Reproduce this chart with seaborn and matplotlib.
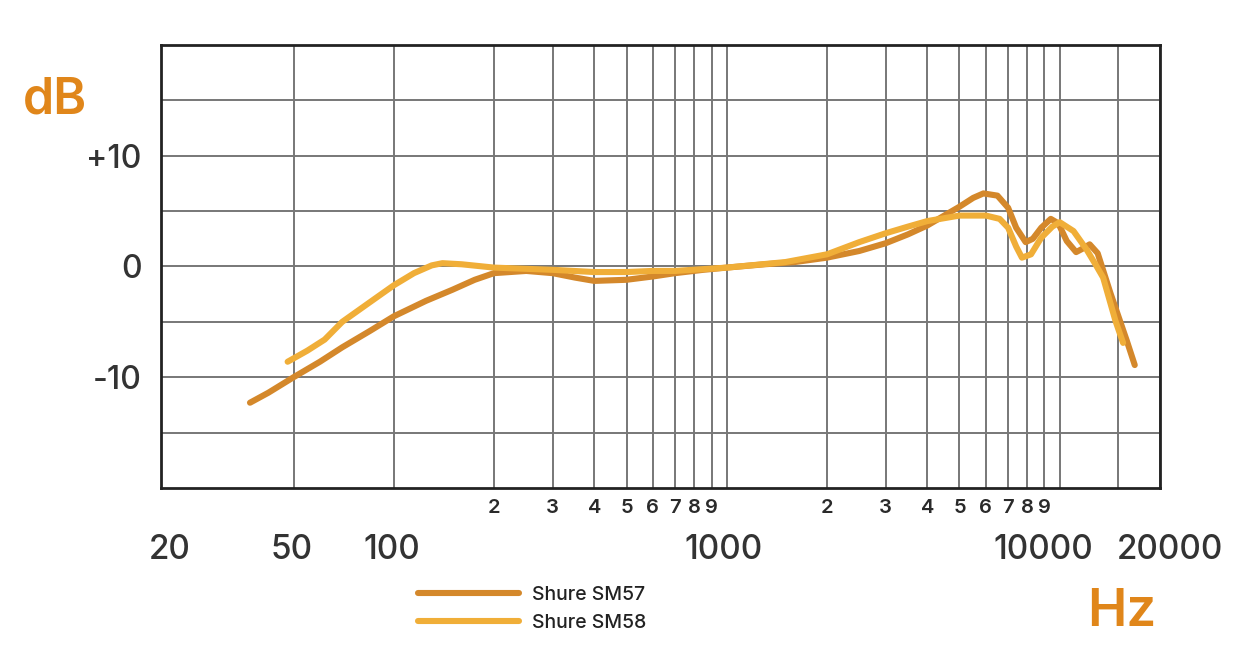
import numpy as np
import pandas as pd
import matplotlib.pyplot as plt
import matplotlib.transforms as mtransforms
import seaborn as sns
from matplotlib.ticker import FixedLocator, FixedFormatter

sns.set_theme(style="white")
plt.rcParams['font.family'] = ['Inter', 'DejaVu Sans']

# SM57 response
sm57_freq = [37, 42, 50, 60, 70, 85, 100, 125, 150, 175, 200, 250, 300, 350, 400,
             500, 600, 700, 850, 1000, 1300, 1600, 2000, 2500, 3000, 3500, 4000,
             4500, 5000, 5500, 5900, 6500, 7000, 7400, 7900, 8300, 8800, 9400,
             9900, 10500, 11200, 11700, 12300, 13000, 14200, 15900, 16800]
sm57_db = [-12.3, -11.4, -10.0, -8.6, -7.3, -5.8, -4.5, -3.1, -2.1, -1.2, -0.6, -0.4,
           -0.6, -1.0, -1.3, -1.2, -0.9, -0.6, -0.3, -0.1, 0.2, 0.4, 0.8, 1.4, 2.1,
           2.9, 3.7, 4.6, 5.4, 6.2, 6.6, 6.4, 5.3, 3.5, 2.2, 2.5, 3.5, 4.3, 3.9, 2.3,
           1.3, 1.6, 2.0, 1.2, -2.4, -6.7, -8.9]

# SM58 response
sm58_freq = [48, 55, 62, 70, 85, 100, 115, 130, 140, 160, 200, 300, 400, 500, 600,
             700, 1000, 1500, 2000, 2500, 3000, 3500, 4000, 5000, 6000, 6600, 7000,
             7400, 7700, 8200, 8800, 9500, 10000, 11000, 12000, 12800, 13500, 14700,
             15500]
sm58_db = [-8.6, -7.6, -6.6, -5.0, -3.2, -1.7, -0.6, 0.1, 0.3, 0.2, -0.1, -0.3, -0.5,
           -0.5, -0.4, -0.4, -0.1, 0.4, 1.1, 2.2, 3.0, 3.6, 4.1, 4.6, 4.6, 4.3, 3.5,
           1.8, 0.8, 1.1, 2.6, 3.6, 4.0, 3.2, 1.6, 0.2, -1.0, -4.9, -6.9]

series_names = ["Shure SM57", "Shure SM58"]
series_colors = {"Shure SM57": "#D4882B", "Shure SM58": "#F0AE38"}

major_x = [20, 50, 100, 1000, 10000, 20000]
major_x_labels = ["20", "50", "100", "1000", "10000", "20000"]
minor_x = [200, 300, 400, 500, 600, 700, 800, 900,
           2000, 3000, 4000, 5000, 6000, 7000, 8000, 9000, 15000]
minor_x_labels = ["2", "3", "4", "5", "6", "7", "8", "9",
                  "2", "3", "4", "5", "6", "7", "8", "9", ""]
major_y = [-10, 0, 10]
major_y_labels = ["-10", "0", "+10"]
minor_y = [-15, -5, 5, 15]

df = pd.concat([
    pd.DataFrame({"Hz": sm57_freq, "dB": sm57_db, "mic": series_names[0]}),
    pd.DataFrame({"Hz": sm58_freq, "dB": sm58_db, "mic": series_names[1]}),
])

fig = plt.figure(figsize=(12.34, 6.66), dpi=100)
ax = fig.add_axes([0.1305, 0.2673, 0.8095, 0.6651])

sns.lineplot(data=df, x="Hz", y="dB", hue="mic", palette=series_colors,
             sort=False, linewidth=4.4, ax=ax, legend=False,
             solid_capstyle="round", solid_joinstyle="round")

ax.set_xscale("log")
ax.set_xlim(20, 20000)
ax.set_ylim(-20, 20)

ax.xaxis.set_major_locator(FixedLocator(major_x))
ax.xaxis.set_major_formatter(FixedFormatter(major_x_labels))
ax.xaxis.set_minor_locator(FixedLocator(minor_x))
ax.xaxis.set_minor_formatter(FixedFormatter(minor_x_labels))
ax.yaxis.set_major_locator(FixedLocator(major_y))
ax.yaxis.set_major_formatter(FixedFormatter(major_y_labels))
ax.yaxis.set_minor_locator(FixedLocator(minor_y))

ax.tick_params(axis="x", which="major", length=0, pad=33, labelsize=24, labelcolor="#333333")
ax.tick_params(axis="x", which="minor", length=0, pad=8, labelsize=14.5, labelcolor="#2a2a2a")
ax.tick_params(axis="y", which="both", length=0, pad=14, labelsize=23, labelcolor="#333333")
for lab in ax.get_xticklabels() + ax.get_yticklabels():
    lab.set_fontweight("medium")
for lab in ax.get_xticklabels(minor=True):
    lab.set_fontweight("semibold")

# nudge the big frequency labels sideways like the reference
label_shift_px = [9, -2, -2, -3, -16, 10]
for tick, dx in zip(ax.xaxis.get_major_ticks(), label_shift_px):
    off = mtransforms.ScaledTranslation(dx / 100, 0, fig.dpi_scale_trans)
    tick.label1.set_transform(tick.label1.get_transform() + off)

ax.grid(True, which="both", color="#777777", linewidth=1.4)
ax.set_axisbelow(True)
for s in ax.spines.values():
    s.set_visible(True)
    s.set_color("#222222")
    s.set_linewidth(2.0)

ax.set_xlabel("")
ax.set_ylabel("")

fig.text(55 / 1234, 1 - 100 / 666, "dB", color="#E0861A", fontsize=36,
         fontweight="semibold", ha="center", va="center")
fig.text(1122 / 1234, 1 - 612 / 666, "Hz", color="#E0861A", fontsize=38,
         fontweight="semibold", ha="center", va="center")

handles = [plt.Line2D([], [], color=series_colors[n], linewidth=4.4,
                      solid_capstyle="round") for n in series_names]
leg = fig.legend(handles, series_names, loc="upper left",
                 bbox_to_anchor=(400 / 1234, 1 - 568 / 666), frameon=False,
                 fontsize=14, handlelength=5.2, labelspacing=0.55, handletextpad=0.7,
                 labelcolor="#222222")
for t in leg.get_texts():
    t.set_fontweight("medium")

fig.savefig("out.png", dpi=100)
